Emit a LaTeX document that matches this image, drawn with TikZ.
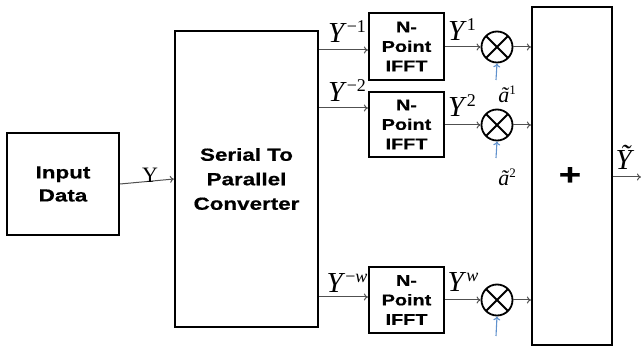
\documentclass[tikz,border=0pt]{standalone}
\usepackage{fontspec}
\setmainfont{Liberation Serif}
\newfontfamily\boxfont[FakeStretch=1.28,FakeBold=0.6]{Liberation Sans}
\usetikzlibrary{arrows.meta}
\definecolor{arrgray}{RGB}{80,80,80}
\definecolor{coefblue}{RGB}{95,145,205}
\tikzset{
  blk/.style={draw=black, line width=2.2pt, fill=white, align=center, font=\boxfont\bfseries, inner sep=0pt},
  mixer/.style={draw=black, line width=1.8pt, circle, minimum size=31pt, inner sep=0pt,
    path picture={\draw[line width=1.8pt] (path picture bounding box.north west) -- (path picture bounding box.south east)
      (path picture bounding box.north east) -- (path picture bounding box.south west);}},
  flow/.style={draw=arrgray, line width=1pt, -{To[length=4pt,width=7pt]}},
  coef/.style={draw=coefblue, line width=1.1pt, -{To[length=4pt,width=7pt]}},
  sig/.style={inner sep=0pt, font=\fontsize{29}{29}\selectfont},
  small/.style={inner sep=0pt, font=\fontsize{22}{22}\selectfont},
}
\begin{document}
\begin{tikzpicture}[x=1pt,y=-1pt]
\useasboundingbox (0,0) rectangle (641,347);
% blocks
\node[blk, minimum width=112pt, minimum height=102pt, font=\fontsize{17.5}{23}\boxfont\bfseries] (in) at (63,184) {Input\\Data};
\node[blk, minimum width=143pt, minimum height=296pt, font=\fontsize{17.5}{24.5}\boxfont\bfseries] (sp) at (246.5,179) {Serial To\\Parallel\\Converter};
\node[blk, minimum width=75pt, minimum height=67pt, font=\fontsize{15.5}{19.5}\boxfont\bfseries] (f1) at (406.5,46.5) {N-\\Point\\IFFT};
\node[blk, minimum width=75pt, minimum height=65pt, font=\fontsize{15.5}{19.5}\boxfont\bfseries] (f2) at (406.5,124.5) {N-\\Point\\IFFT};
\node[blk, minimum width=75pt, minimum height=66pt, font=\fontsize{15.5}{19.5}\boxfont\bfseries] (f3) at (406.5,300) {N-\\Point\\IFFT};
\node[blk, minimum width=80pt, minimum height=338pt] (sum) at (572,176) {};
\node[font=\fontsize{30}{30}\boxfont\bfseries, inner sep=0pt] (plus) at (570,176) {+};
% mixers
\node[mixer] (m1) at (497,47) {};
\node[mixer] (m2) at (497,125) {};
\node[mixer] (m3) at (497,300) {};
% coordinates for free ends
\coordinate (out) at (641,177);
\coordinate (a1s) at (496,80);
\coordinate (a2s) at (496,158);
\coordinate (a3s) at (496,336);
% connectors
\draw[flow] (in.east) -- (sp.west);
\draw[flow] (sp.east |- 0,50) -- (f1.west |- 0,50);
\draw[flow] (sp.east |- 0,108) -- (f2.west |- 0,108);
\draw[flow] (sp.east |- 0,297) -- (f3.west |- 0,297);
\draw[flow] (f1.east |- m1) -- (m1.west);
\draw[flow] (f2.east |- m2) -- (m2.west);
\draw[flow] (f3.east |- m3) -- (m3.west);
\draw[flow] (m1.east) -- (sum.west |- m1);
\draw[flow] (m2.east) -- (sum.west |- m2);
\draw[flow] (m3.east) -- (sum.west |- m3);
\draw[flow] (sum.east |- out) -- (out);
\draw[coef] (a1s) -- (m1.south);
\draw[coef] (a2s) -- (m2.south);
\draw[coef] (a3s) -- (m3.south);
% labels
\node[small] (ly) at (150,175) {Y};
\node[sig] (l1) at (347,32) {\textit{Y}\raisebox{10pt}{\fontsize{18}{18}\selectfont −1}};
\node[sig] (l2) at (347,91) {\textit{Y}\raisebox{10pt}{\fontsize{18}{18}\selectfont −2}};
\node[sig] (l3) at (347,283) {\textit{Y}\raisebox{10pt}{\fontsize{18}{18}\selectfont −\textit{w}}};
\node[sig] (o1) at (462,30) {\textit{Y}\raisebox{10pt}{\fontsize{18}{18}\selectfont 1}};
\node[sig] (o2) at (462,106) {\textit{Y}\raisebox{10pt}{\fontsize{18}{18}\selectfont 2}};
\node[sig] (o3) at (463,282) {\textit{Y}\raisebox{10pt}{\fontsize{18}{18}\selectfont \textit{w}}};
\node[small] (c1) at (507,94) {\textit{\~a}\raisebox{8pt}{\fontsize{13}{13}\selectfont 1}};
\node[small] (c2) at (507,177) {\textit{\~a}\raisebox{8pt}{\fontsize{13}{13}\selectfont 2}};
\node[sig] (ly2) at (625,157) {\textit{\~Y}};
\end{tikzpicture}
\end{document}
